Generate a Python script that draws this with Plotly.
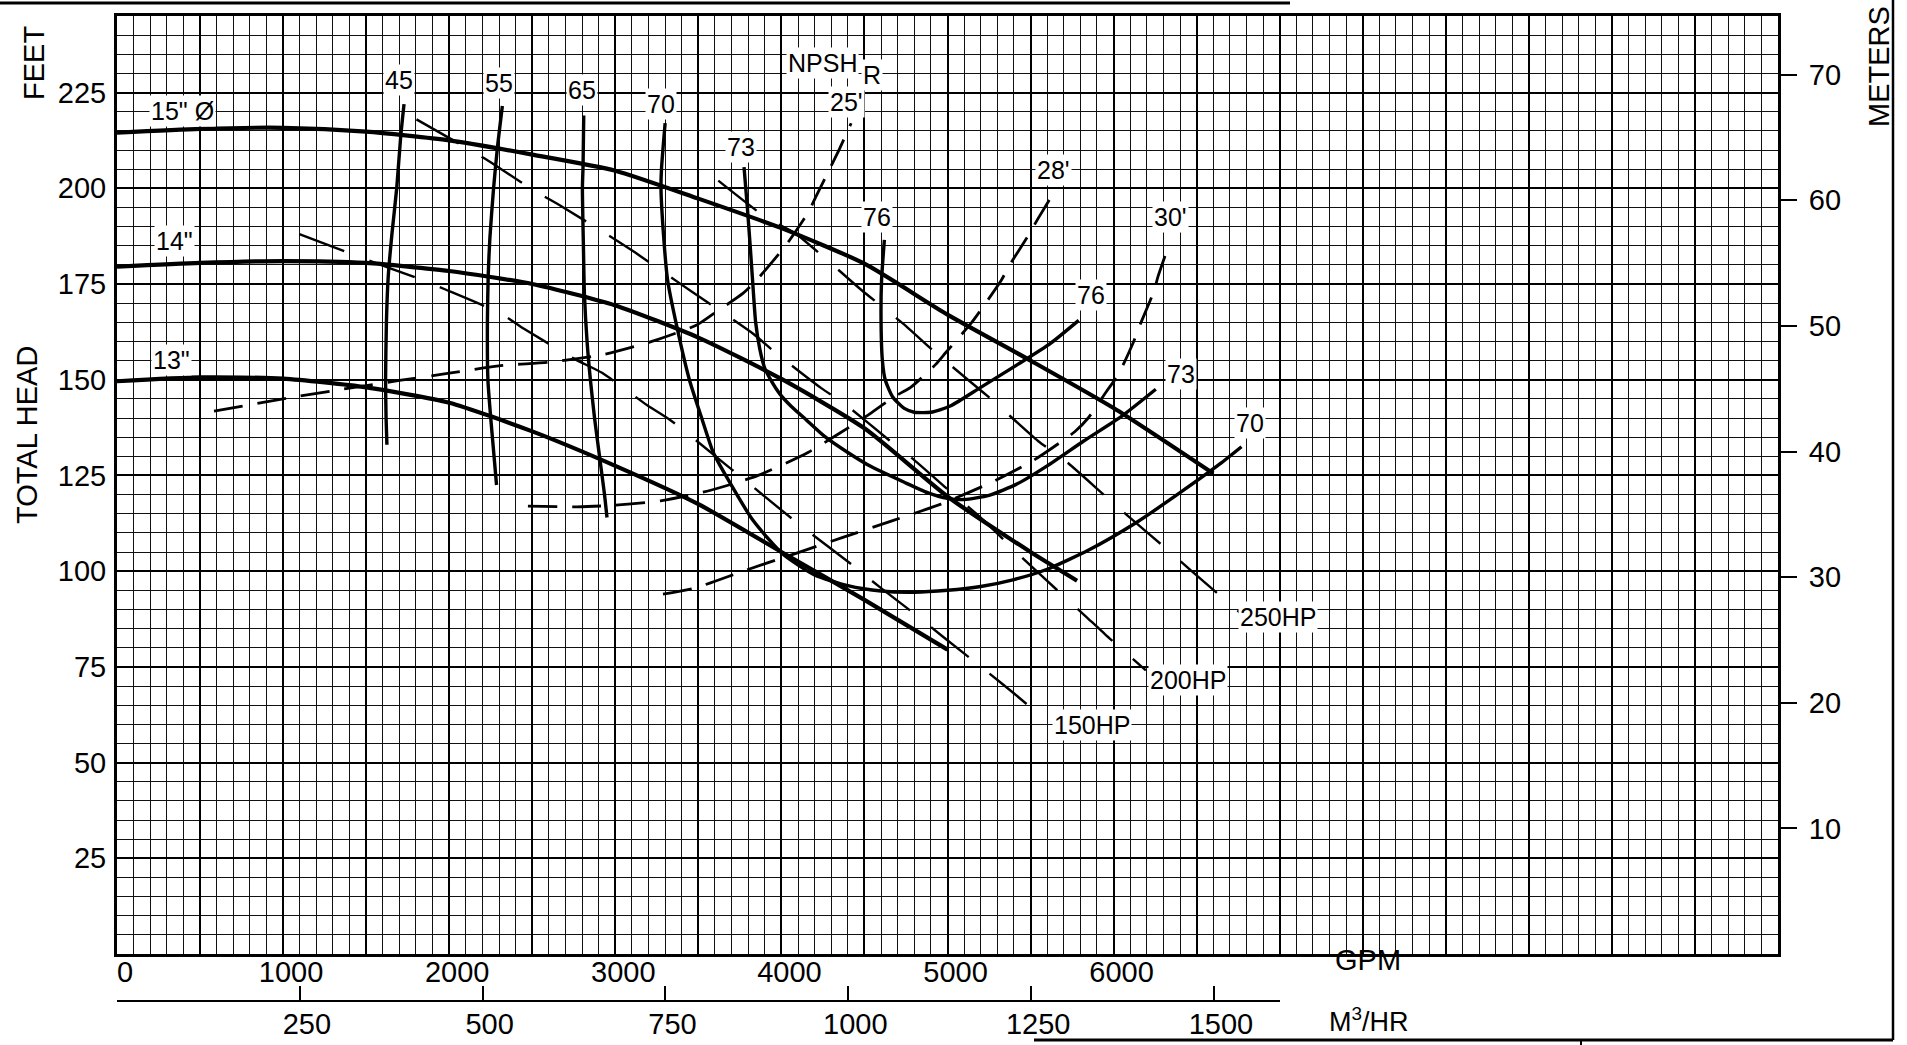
import plotly.graph_objects as go

# ---------------- unit conversions ----------------
GPM_PER_M3H = 4.40287
FT_PER_M = 3.28084

# ---------------- axes / ticks ----------------
gpm_max = 10000
head_max = 245
gpm_major_step = 500
gpm_minor_step = 100
head_major_step = 25
head_minor_step = 5
gpm_label_vals = [0, 1000, 2000, 3000, 4000, 5000, 6000]
gpm_label_text = ["0", "1000", "2000", "3000", "4000", "5000", "6000"]
head_label_vals = [0, 25, 50, 75, 100, 125, 150, 175, 200, 225]
head_label_text = ["", "25", "50", "75", "100", "125", "150", "175", "200", "225"]
meter_label_vals = [10, 20, 30, 40, 50, 60, 70]
meter_label_text = ["10", "20", "30", "40", "50", "60", "70"]
m3h_tick_vals = [0, 250, 500, 750, 1000, 1250, 1500]
m3h_tick_text = ["", "250", "500", "750", "1000", "1250", "1500"]
m3h_axis_end_gpm = 7000

# ---------------- impeller head curves (GPM, ft) ----------------
imp15_gpm = [0, 500, 1000, 1500, 2000, 2500, 3000, 3500, 4000, 4500, 5000, 5500, 6000, 6600]
imp15_ft = [214.5, 215.5, 215.8, 214.8, 212.5, 208.8, 204.6, 197.3, 189.6, 180.3, 167.0, 155.0, 142.6, 125.5]
imp14_gpm = [0, 500, 1000, 1500, 2000, 2500, 3000, 3500, 4000, 4500, 5000, 5500, 5780]
imp14_ft = [179.5, 180.5, 181.0, 180.5, 178.4, 175.0, 169.4, 161.0, 150.2, 137.3, 119.5, 105.0, 97.5]
imp13_gpm = [0, 500, 1000, 1500, 2000, 2500, 3000, 3500, 4000, 4500, 5000]
imp13_ft = [149.6, 150.6, 150.3, 148.0, 144.0, 136.5, 127.5, 117.5, 105.0, 92.5, 79.5]

# ---------------- efficiency curves (%) ----------------
eff45_gpm = [1728, 1708, 1684, 1655, 1633, 1622, 1617, 1620, 1625]
eff45_ft = [222, 213.5, 200, 188, 177, 165, 150, 140, 133]
eff55_gpm = [2320, 2290, 2267, 2245, 2235, 2230, 2233, 2250, 2270, 2285]
eff55_ft = [221.5, 210.5, 200, 187, 177.5, 165, 150, 140, 130, 122.5]
eff65_gpm = [2810, 2806, 2802, 2808, 2814, 2830, 2850, 2875, 2905, 2935, 2950]
eff65_ft = [219, 206, 200, 185, 172.5, 160, 150, 140, 130, 120, 114]
eff70_gpm = [3300, 3278, 3275, 3290, 3315, 3374, 3446, 3520, 3590, 3670, 3830, 4010, 4200, 4400,
             4600, 4800, 5000, 5200, 5400, 5600, 5850, 6130, 6400, 6640, 6770]
eff70_ft = [217, 205, 200, 188, 176, 163.2, 150, 140, 131, 124.6, 113.2, 104.4, 99, 96.2,
            94.8, 94.5, 95, 96, 97.8, 100.5, 105.5, 112.5, 120.5, 128, 132.5]
eff73_gpm = [3775, 3795, 3812, 3828, 3845, 3870, 3900, 3935, 3990, 4060, 4150, 4260, 4400, 4540,
             4740, 4880, 5000, 5100, 5250, 5420, 5600, 5820, 6050, 6254]
eff73_ft = [205.5, 195, 185, 175, 165, 158, 153, 150, 146.3, 143, 139.5, 135.2, 131, 127.3,
            123.2, 120.5, 119, 118.7, 119.8, 122.8, 127.5, 134, 140.5, 147.5]
eff76_gpm = [4620, 4603, 4600, 4608, 4625, 4670, 4740, 4800, 4900, 5020, 5200, 5423, 5620, 5790]
eff76_ft = [186.5, 176, 165, 155, 150, 145.5, 142.5, 141.5, 141.5, 143.2, 148, 154, 159.5, 165.5]

# ---------------- NPSH required curves (ft) ----------------
npsh25_gpm = [584, 1070, 1400, 1700, 2000, 2310, 2610, 2930, 3220, 3490, 3590, 3770, 3840, 3980,
              4050, 4160, 4210, 4300, 4350, 4420]
npsh25_ft = [141.8, 145.5, 147.8, 149.8, 151.7, 153.7, 154.6, 156.6, 160, 164.3, 167.2, 172.6, 175.5,
             182.6, 186.5, 193.6, 198, 205.9, 210.3, 217]
npsh28_gpm = [2474, 2770, 2950, 3280, 3580, 3860, 4160, 4350, 4530, 4680, 4778, 4929, 4990, 5141,
              5202, 5323, 5373, 5484, 5544, 5625]
npsh28_ft = [117, 116.8, 117.1, 118.4, 121.2, 125, 131, 136, 141, 145.6, 148, 154, 157.1, 164.7,
             168.3, 175.9, 179.9, 187.5, 192, 197.8]
npsh30_gpm = [3287, 3480, 3770, 4070, 4370, 4670, 4960, 5255, 5520, 5766, 5847, 5958, 6028, 6119,
              6159, 6240, 6270, 6331]
npsh30_ft = [94, 95.6, 100, 104.4, 108.8, 113.2, 117.5, 123, 129, 136.4, 140, 147, 151.3, 159.8,
             164.3, 172.8, 177.3, 185]

# ---------------- power lines (HP) ----------------
hp150_gpm = [1098, 1324, 1499, 1817, 1981, 2310, 2450, 2760, 2920, 3190, 3330, 4004, 4143, 4421,
             4602, 4827, 4969, 5245, 5388, 5602]
hp150_ft = [188, 184.3, 181.4, 176.4, 173.5, 167.3, 163.3, 155.3, 151.8, 143.4, 139.5, 115.8, 111,
            101.8, 95.5, 88, 83, 73.5, 68.5, 60.7]
hp200_gpm = [1803, 2074, 2228, 2500, 2680, 2970, 3120, 3390, 3546, 3830, 3966, 4240, 4371, 4649,
             4800, 5050, 5200, 5450, 5561, 5827, 5949, 6194]
hp200_ft = [218, 211.3, 207.4, 199.7, 195.2, 187.4, 183.2, 175.1, 170.5, 162, 157, 147.8, 144, 134.2,
            129, 119.5, 114, 103.5, 99, 88.4, 83.5, 74.1]
hp250_gpm = [3620, 3910, 4080, 4340, 4480, 4750, 4890, 5150, 5280, 5545, 5705, 5940, 6070, 6340,
             6470, 6765]
hp250_ft = [202, 192.3, 188.3, 178.8, 173.5, 164, 158.5, 149, 144.3, 134, 129, 120, 115, 105, 100, 89]

# ---------------- curve labels (text, GPM, ft) ----------------
label_text = ["15\" Ø", "14\"", "13\"", "45", "55", "65", "70", "73", "76", "25'", "28'", "30'",
              "76", "73", "70", "250HP", "200HP", "150HP", "NPSH", "R"]
label_gpm = [394, 349, 329, 1699, 2300, 2800, 3277, 3757, 4576, 4392, 5639, 6343,
             5861, 6404, 6819, 6990, 6449, 5871, 4250, 4545]
label_ft = [220.3, 186.3, 155.2, 228.2, 227.4, 225.6, 222, 210.8, 192.5, 222.5, 204.7, 192.5,
            172, 151.6, 138.6, 88, 71.6, 59.8, 232.6, 229.6]

# ---------------- figure geometry (pixels) ----------------
W, H = 1907, 1045
ML, MR, MT, MB = 117, 129, 16, 0
PW, PH = W - ML - MR, H - MT - MB
plot_bottom_px = 954
m3h_line_px = 1000


def px_x(px):
    return (px - ML) / PW


def px_y(py):
    return (H - MB - py) / PH


FONT = "Liberation Sans, Arial, Helvetica, sans-serif"

fig = go.Figure()


def add_line(xs, ys, width, dash="solid"):
    fig.add_trace(go.Scatter(
        x=xs, y=ys, mode="lines", hoverinfo="skip", showlegend=False,
        line=dict(color="black", width=width, dash=dash, shape="spline", smoothing=0.6),
    ))


for xs, ys in [(imp15_gpm, imp15_ft), (imp14_gpm, imp14_ft), (imp13_gpm, imp13_ft)]:
    add_line(xs, ys, 4.2)
for xs, ys in [(eff45_gpm, eff45_ft), (eff55_gpm, eff55_ft), (eff65_gpm, eff65_ft),
               (eff70_gpm, eff70_ft), (eff73_gpm, eff73_ft), (eff76_gpm, eff76_ft)]:
    add_line(xs, ys, 3.4)
for xs, ys in [(npsh25_gpm, npsh25_ft), (npsh28_gpm, npsh28_ft), (npsh30_gpm, npsh30_ft)]:
    add_line(xs, ys, 2.8, dash="29px,15px")
for xs, ys in [(hp150_gpm, hp150_ft), (hp200_gpm, hp200_ft), (hp250_gpm, hp250_ft)]:
    add_line(xs, ys, 2.4, dash="48px,27px")

# helper traces so the secondary axes are drawn
fig.add_trace(go.Scatter(x=[0], y=[0], yaxis="y2", mode="markers", marker=dict(opacity=0),
                         hoverinfo="skip", showlegend=False))
fig.add_trace(go.Scatter(x=[0], y=[0], xaxis="x2", yaxis="y3", mode="markers",
                         marker=dict(opacity=0), hoverinfo="skip", showlegend=False))

gpm_grid_vals = list(range(0, gpm_max + 1, gpm_major_step))
gpm_grid_text = [gpm_label_text[gpm_label_vals.index(v)] if v in gpm_label_vals else ""
                 for v in gpm_grid_vals]

y_dom0 = px_y(plot_bottom_px)
tickfont = dict(family=FONT, size=29, color="black")

fig.update_layout(
    width=W, height=H, autosize=False,
    margin=dict(l=ML, r=MR, t=MT, b=MB, pad=0),
    paper_bgcolor="white", plot_bgcolor="rgba(0,0,0,0)",
    font=dict(family=FONT, color="black"),
    xaxis=dict(
        domain=[0, 1], range=[0, gpm_max], anchor="y",
        tickmode="array", tickvals=gpm_grid_vals, ticktext=gpm_grid_text,
        ticks="", tickfont=tickfont, ticklabelshift=8, ticklabelstandoff=-10,
        showgrid=True, gridcolor="black", gridwidth=2,
        minor=dict(tickmode="linear", tick0=0, dtick=gpm_minor_step, showgrid=True,
                   gridcolor="#111", gridwidth=1, ticks=""),
        showline=True, linecolor="black", linewidth=3, mirror=True,
        zeroline=False, automargin=False, fixedrange=True,
    ),
    yaxis=dict(
        domain=[y_dom0, 1], range=[0, head_max], anchor="x",
        tickmode="array", tickvals=head_label_vals, ticktext=head_label_text,
        ticks="", tickfont=tickfont, ticklabelstandoff=2,
        showgrid=True, gridcolor="black", gridwidth=2,
        minor=dict(tickmode="linear", tick0=0, dtick=head_minor_step, showgrid=True,
                   gridcolor="#111", gridwidth=1, ticks=""),
        showline=True, linecolor="black", linewidth=3, mirror=True,
        zeroline=False, automargin=False, fixedrange=True,
    ),
    yaxis2=dict(
        overlaying="y", side="right", anchor="x", range=[0, head_max / FT_PER_M],
        tickmode="array", tickvals=meter_label_vals, ticktext=meter_label_text,
        ticks="outside", ticklen=18, tickwidth=2, tickcolor="black",
        tickfont=tickfont, ticklabelstandoff=6,
        showgrid=False, zeroline=False, showline=False, automargin=False, fixedrange=True,
    ),
    yaxis3=dict(
        domain=[px_y(m3h_line_px), y_dom0], range=[0, 1], anchor="x2", visible=False,
        fixedrange=True,
    ),
    xaxis2=dict(
        domain=[0, m3h_axis_end_gpm / gpm_max], anchor="y3", side="bottom",
        range=[0, m3h_axis_end_gpm / GPM_PER_M3H],
        tickmode="array", tickvals=m3h_tick_vals, ticktext=m3h_tick_text,
        ticks="inside", ticklen=14, tickwidth=2, tickcolor="black",
        tickfont=tickfont, ticklabelshift=7, ticklabelstandoff=-3,
        showgrid=False, zeroline=False, showline=True, linecolor="black", linewidth=2,
        automargin=False, fixedrange=True,
    ),
)

annotations = []
for t, gx, gy in zip(label_text, label_gpm, label_ft):
    annotations.append(dict(
        x=gx, y=gy, xref="x", yref="y", text=t, showarrow=False,
        xanchor="center", yanchor="middle",
        font=dict(family=FONT, size=25, color="black"),
        bgcolor="white", borderpad=1,
    ))


def title_ann(text, xp, yp, angle=0, size=29):
    return dict(x=px_x(xp), y=px_y(yp), xref="paper", yref="paper", text=text,
                textangle=angle, showarrow=False, xanchor="center", yanchor="middle",
                font=dict(family=FONT, size=size, color="black"))


annotations += [
    title_ann("FEET", 34, 63, -90),
    title_ann("TOTAL HEAD", 27, 435, -90),
    title_ann("METERS", 1879, 67, -90),
    title_ann("GPM", 1368, 960),
    title_ann("M<sup>3</sup>/HR", 1369, 1020, 0, 27),
]
fig.update_layout(annotations=annotations)

# page frame lines of the original sheet
frame = [
    (0, 3, 1290, 3, 3),
    (1893, 0, 1893, 1040, 2.5),
    (1034, 1040, 1893, 1040, 3),
    (1581, 1040, 1581, 1045, 2),
]
fig.update_layout(shapes=[
    dict(type="line", xref="paper", yref="paper", x0=px_x(a), y0=px_y(b), x1=px_x(c), y1=px_y(d),
         line=dict(color="black", width=w), layer="above")
    for a, b, c, d, w in frame
])

fig.write_html("out.html", config={"displayModeBar": False, "staticPlot": True},
               post_script="document.body.style.margin='0';document.body.style.overflow='hidden';")
